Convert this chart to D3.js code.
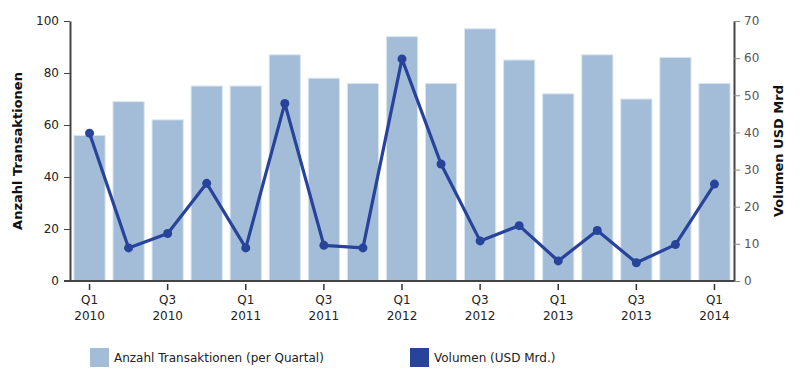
<!DOCTYPE html>
<html><head><meta charset="utf-8">
<script src="https://cdn.jsdelivr.net/npm/d3@7"></script>
<style>body{margin:0;background:#fff;font-family:Verdana,"DejaVu Sans",sans-serif;}</style>
</head><body><svg id="c" width="800" height="380"></svg>
<script>
const categories = ["Q1 2010","Q2 2010","Q3 2010","Q4 2010","Q1 2011","Q2 2011","Q3 2011","Q4 2011","Q1 2012","Q2 2012","Q3 2012","Q4 2012","Q1 2013","Q2 2013","Q3 2013","Q4 2013","Q1 2014"];
const transaktionen = [56,69,62,75,75,87,78,76,94,76,97,85,72,87,70,86,76];
const volumen = [39.8,8.9,12.8,26.3,8.9,47.8,9.6,8.9,59.8,31.5,10.8,14.9,5.4,13.6,4.9,9.8,26.1];
const leftTicks = [0,20,40,60,80,100];
const rightTicks = [0,10,20,30,40,50,60,70];
const xTickLabels = ["Q1 2010","Q3 2010","Q1 2011","Q3 2011","Q1 2012","Q3 2012","Q1 2013","Q3 2013","Q1 2014"];

const svg = d3.select("#c");
const L = 70, R = 734, T = 21, B = 281;
const x = d3.scaleBand().domain(categories).range([L, R]).paddingInner(0.2).paddingOuter(0.1);
const yL = d3.scaleLinear().domain([0,100]).range([B, T]);
const yR = d3.scaleLinear().domain([0,70]).range([B, T]);
const barColor = "#a3bdd9", lineColor = "#27449a";

svg.append("g").selectAll("rect").data(transaktionen).join("rect")
  .attr("x", (d,i)=>x(categories[i])).attr("width", x.bandwidth())
  .attr("y", d=>yL(d)).attr("height", d=>B-yL(d))
  .attr("fill", barColor).attr("stroke","#dce6f1").attr("stroke-width",1);

const line = d3.line().x((d,i)=>x(categories[i])+x.bandwidth()/2).y(d=>yR(d));
svg.append("path").datum(volumen).attr("d", line).attr("fill","none")
  .attr("stroke", lineColor).attr("stroke-width",3.2).attr("stroke-linejoin","round");
svg.append("g").selectAll("circle").data(volumen).join("circle")
  .attr("cx",(d,i)=>x(categories[i])+x.bandwidth()/2).attr("cy",d=>yR(d)).attr("r",4.5).attr("fill",lineColor);

// left axis
const gl = svg.append("g").attr("transform",`translate(${L},0)`)
  .call(d3.axisLeft(yL).tickValues(leftTicks).tickSize(6).tickSizeOuter(0).tickPadding(5));
gl.select(".domain").attr("stroke","#444").attr("stroke-width",2);
gl.selectAll(".tick line").attr("stroke","#444");
gl.selectAll("text").attr("font-family","Verdana, DejaVu Sans, sans-serif").attr("font-size",12).attr("fill","#222");

// right axis
const gr = svg.append("g").attr("transform",`translate(${R},0)`)
  .call(d3.axisRight(yR).tickValues(rightTicks).tickSize(6).tickSizeOuter(0).tickPadding(4));
gr.select(".domain").attr("stroke","#444").attr("stroke-width",2);
gr.selectAll(".tick line").attr("stroke","#888");
gr.selectAll("text").attr("font-family","Verdana, DejaVu Sans, sans-serif").attr("font-size",12).attr("fill","#555");

// bottom axis
const gb = svg.append("g").attr("transform",`translate(0,${B})`)
  .call(d3.axisBottom(x).tickValues(xTickLabels).tickSize(6).tickSizeOuter(0).tickFormat(()=>""));
gb.select(".domain").attr("stroke","#444").attr("stroke-width",2).attr("d",`M${L-6},0H${R}`);
gb.selectAll(".tick line").attr("stroke","#333").attr("stroke-width",1.5).attr("y1",3).attr("y2",9);
gb.selectAll(".tick").each(function(d){
  const parts = d.split(" ");
  const t = d3.select(this).append("text").attr("fill","#222").attr("font-size",12)
    .attr("font-family","Verdana, DejaVu Sans, sans-serif").attr("text-anchor","middle");
  t.append("tspan").attr("x",0).attr("y",23).text(parts[0]);
  t.append("tspan").attr("x",0).attr("y",39).text(parts[1]);
});

// axis titles
svg.append("text").attr("transform","translate(22,151) rotate(-90)").attr("text-anchor","middle")
  .attr("font-family","Verdana, DejaVu Sans, sans-serif").attr("font-weight","bold").attr("font-size",13).attr("fill","#111")
  .text("Anzahl Transaktionen");
svg.append("text").attr("transform","translate(783,151) rotate(-90)").attr("text-anchor","middle")
  .attr("font-family","Verdana, DejaVu Sans, sans-serif").attr("font-weight","bold").attr("font-size",13).attr("fill","#111")
  .text("Volumen USD Mrd");

// legend
const legend = [{label:"Anzahl Transaktionen (per Quartal)", color:barColor, x:90},{label:"Volumen (USD Mrd.)", color:lineColor, x:410}];
const lg = svg.append("g").selectAll("g").data(legend).join("g").attr("transform",d=>`translate(${d.x},348)`);
lg.append("rect").attr("width",19).attr("height",19).attr("fill",d=>d.color);
lg.append("text").attr("x",24).attr("y",14).attr("font-size",12).attr("fill","#222")
  .attr("font-family","Verdana, DejaVu Sans, sans-serif").text(d=>d.label);
</script></body></html>
